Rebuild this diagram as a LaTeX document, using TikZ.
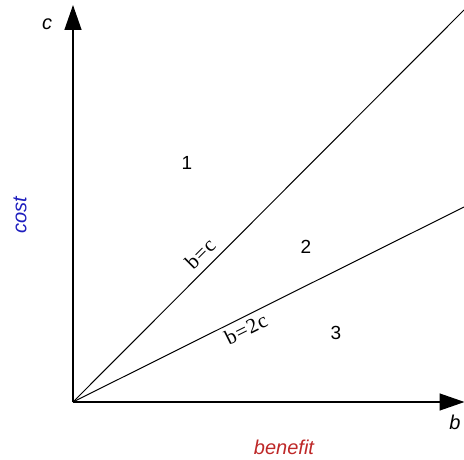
\documentclass[tikz,border=0pt]{standalone}
\usepackage{fontspec}
\setmainfont{Liberation Sans}
\newfontfamily\eqfont[LetterSpace=4]{Liberation Serif}
\usetikzlibrary{arrows.meta}
\definecolor{costblue}{RGB}{30,30,190}
\definecolor{benred}{RGB}{190,40,40}
\begin{document}
\begin{tikzpicture}[x=1pt,y=1pt,
  axis/.style={line width=1.4pt,-{Triangle[length=25pt,width=17pt]}},
  ray/.style={line width=1pt},
  region/.style={font=\fontsize{19}{21}\selectfont},
  eqlabel/.style={font=\eqfont\fontsize{21}{23}\selectfont,inner sep=0pt},
  axlabel/.style={font=\itshape\fontsize{20}{22}\selectfont}]
\useasboundingbox (0,0) rectangle (464,459);
\coordinate (O) at (73,57);
\coordinate (ytip) at (73,454);
\coordinate (xtip) at (464.5,57);
\coordinate (e1) at (464,449);
\coordinate (e2) at (464,252);
\draw[ray] (O) -- (e1);
\draw[ray] (O) -- (e2);
\draw[axis] (O) -- (ytip);
\draw[axis] (O) -- (xtip);
\node[axlabel] (lc) at (47,435) {c};
\node[axlabel] (lb) at (455,37) {b};
\node[axlabel,text=costblue,rotate=90] (lcost) at (20,244) {cost};
\node[axlabel,text=benred] (lben) at (284,12) {benefit};
\node[region] (r1) at (187,296) {1};
\node[region] (r2) at (306,212) {2};
\node[region] (r3) at (336,126) {3};
\node[eqlabel,rotate=45] (q1) at (200,205) {b=c};
\node[eqlabel,rotate=26.6] (q2) at (246,130) {b=2c};
\end{tikzpicture}
\end{document}
